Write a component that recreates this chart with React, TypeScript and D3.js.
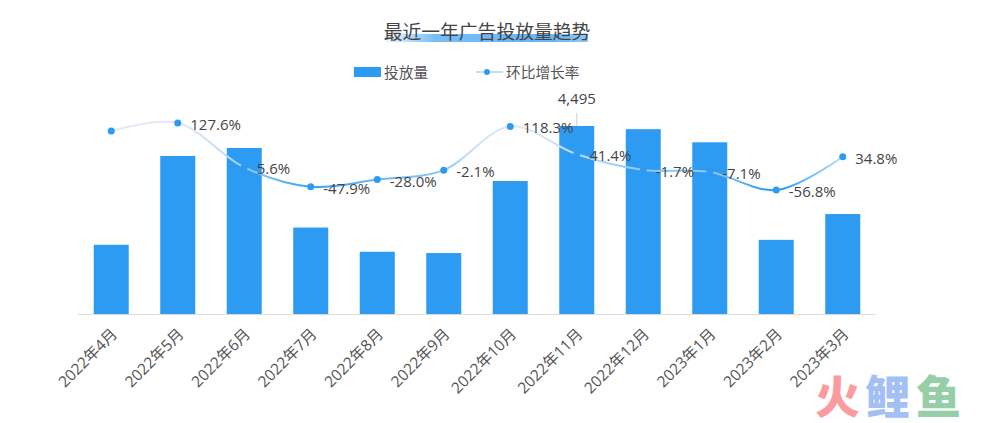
import React from "react";
import * as d3 from "d3";

const categories = ["2022年4月","2022年5月","2022年6月","2022年7月","2022年8月","2022年9月","2022年10月","2022年11月","2022年12月","2023年1月","2023年2月","2023年3月"];
const volumes = [1655,3778,3969,2067,1488,1457,3180,4495,4419,4105,1773,2390];
const growth = [105.5,127.6,5.6,-47.9,-28.0,-2.1,118.3,41.4,-1.7,-7.1,-56.8,34.8];
const growthLabels = [null,"127.6%","5.6%","-47.9%","-28.0%","-2.1%","118.3%","41.4%","-1.7%","-7.1%","-56.8%","34.8%"];
const maxLabel = "4,495";
const title = "最近一年广告投放量趋势";
const legendBar = "投放量";
const legendLine = "环比增长率";
const BLUE = "#2e9bf2";
const TEXT = "#444";
const FONT = "'Open Sans','Noto Sans CJK SC',sans-serif";

export default function App() {
  const x = d3.scaleBand<string>().domain(categories).range([78, 876]).paddingInner(0.4737).paddingOuter(0.2368);
  const y = d3.scaleLinear().domain([0, 4495]).range([314, 126]);
  const yL = d3.scaleLinear().domain([-56.8, 127.6]).range([190, 123]);
  const cx = (c: string) => x(c)! + x.bandwidth() / 2;
  const line = d3.line<number>().x((_, i) => cx(categories[i])).y(d => yL(d)).curve(d3.curveCatmullRom.alpha(0.5));
  const maxIdx = volumes.indexOf(d3.max(volumes)!);
  return (
    <div style={{ position: "absolute", left: 0, top: 0 }}>
      <svg width={984} height={423} style={{ display: "block", fontFamily: FONT }}>
        <defs>
          <linearGradient id="lg" x1="0" y1="122" x2="0" y2="190" gradientUnits="userSpaceOnUse">
            <stop offset="0" stopColor="#e8e8f4" />
            <stop offset="0.5" stopColor="#bcdcf6" />
            <stop offset="0.8" stopColor="#7fc0f4" />
            <stop offset="1" stopColor="#2e9bf2" />
          </linearGradient>
          <linearGradient id="tg" x1="0" y1="0" x2="1" y2="0">
            <stop offset="0" stopColor="#5fb2f5" stopOpacity="0.1" />
            <stop offset="0.25" stopColor="#5fb2f5" stopOpacity="0.85" />
            <stop offset="0.8" stopColor="#5fb2f5" stopOpacity="0.95" />
            <stop offset="1" stopColor="#5fb2f5" stopOpacity="0.7" />
          </linearGradient>
        </defs>
        <rect x={385} y={34} width={203} height={8} fill="url(#tg)" />
        <text x={487} y={39} textAnchor="middle" fontSize={18.8} fill={TEXT}>{title}</text>

        <rect x={354} y={67} width={27} height={10} fill={BLUE} />
        <text x={384} y={78} fontSize={14.7} fill="#555">{legendBar}</text>
        <line x1={476} x2={503} y1={72} y2={72} stroke="#a9d4f6" strokeWidth={1.5} />
        <circle cx={487} cy={72} r={3} fill={BLUE} />
        <text x={506} y={78} fontSize={14.7} fill="#555">{legendLine}</text>

        {volumes.map((v, i) => (
          <rect key={i} x={x(categories[i])} y={y(v)} width={x.bandwidth()} height={314 - y(v)} fill={BLUE} />
        ))}
        <line x1={78} x2={876} y1={314.5} y2={314.5} stroke="#e0dcd8" />
        <line x1={cx(categories[maxIdx])} x2={cx(categories[maxIdx])} y1={113} y2={126} stroke="#bbb" strokeWidth={0.7} />
        <text x={cx(categories[maxIdx])} y={104} textAnchor="middle" fontSize={15} fill={TEXT}>{maxLabel}</text>

        <path d={line(growth)!} fill="none" stroke="url(#lg)" strokeWidth={2} />
        {growth.map((g, i) => (
          <circle key={i} cx={cx(categories[i])} cy={yL(g)} r={3.5} fill={BLUE} />
        ))}
        {growth.map((g, i) => growthLabels[i] && (
          <text key={i} x={cx(categories[i]) + 12.5} y={yL(g) + 7} fontSize={15} fill={TEXT}>{growthLabels[i]}</text>
        ))}

        {categories.map((c) => (
          <text key={c} transform={`translate(${cx(c) + 4},${332}) rotate(-45)`} textAnchor="end" dominantBaseline="middle" fontSize={15.5} fill="#555">{c}</text>
        ))}

        <g fontFamily="'Liberation Sans','Noto Sans CJK SC',sans-serif" fontWeight={900} fontSize={45}>
          <text x={815} y={414} fill="#fb9ba0">火</text>
          <text x={865} y={414} fill="#a3c0f5">鲤</text>
          <text x={916} y={414} fill="#96cfa7">鱼</text>
        </g>
      </svg>
    </div>
  );
}
